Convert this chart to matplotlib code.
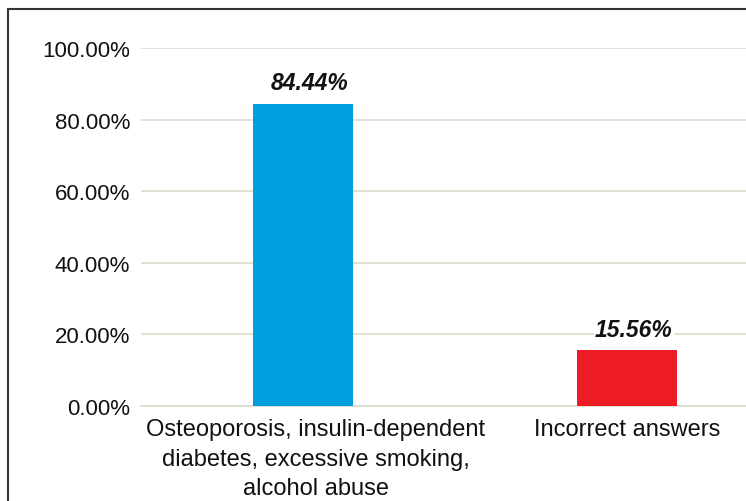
import matplotlib
matplotlib.use('Agg')
import matplotlib.pyplot as plt
import matplotlib.transforms as mtransforms
from matplotlib.patches import Rectangle
from matplotlib.ticker import FuncFormatter

# Datos
categorias = ['Osteoporosis, insulin-dependent\ndiabetes, excessive smoking,\nalcohol abuse',
              'Incorrect answers']
valores = [84.44, 15.56]
colores = ['#009FDF', '#ED1C24']

plt.rcParams['font.family'] = ['Liberation Sans', 'DejaVu Sans']

fig = plt.figure(figsize=(7.46, 5.02), dpi=100)
ax = fig.add_axes([141 / 746, 1 - 407 / 502, 648 / 746, (407 - 49) / 502])

x = [0, 1]
ax.bar(x, valores, width=0.31, color=colores, zorder=3)
ax.set_xlim(-0.5, 1.5)
ax.set_ylim(0, 100)
ax.set_yticks([0, 20, 40, 60, 80, 100])
ax.yaxis.set_major_formatter(FuncFormatter(lambda v, p: f'{v:.2f}%'))
ax.set_xticks(x)
ax.set_xticklabels(categorias, linespacing=1.42)
ax.tick_params(axis='both', length=0, labelcolor='#111111')
ax.tick_params(axis='y', pad=8, labelsize=16)
ax.tick_params(axis='x', pad=9, labelsize=17)
ax.grid(axis='y', color='#DADACB', linewidth=1.2, zorder=0)
for s in ['top', 'right', 'left']:
    ax.spines[s].set_visible(False)
ax.spines['bottom'].set_color('#DADACB')
ax.spines['bottom'].set_linewidth(1.2)

# el texto largo queda algo desplazado a la derecha en el original
lbl = ax.get_xticklabels()[0]
lbl.set_transform(lbl.get_transform() +
                  mtransforms.ScaledTranslation(13 / 100, 0, fig.dpi_scale_trans))

# Etiquetas sobre las barras
for xi, v in zip(x, valores):
    ax.annotate(f'{v:.2f}%', (xi, v), xytext=(5, 7), textcoords='offset points',
                ha='center', va='bottom', fontsize=16.5, fontweight='bold',
                fontstyle='italic', color='#111111', zorder=4,
                bbox=dict(facecolor='white', edgecolor='none', pad=1))

# Marco exterior
fig.add_artist(Rectangle((8 / 746, -0.1), 1.2, 1 - 10 / 502 + 0.1,
                         transform=fig.transFigure, fill=False,
                         edgecolor='#333333', linewidth=1.5, clip_on=False))

fig.savefig('out.png', dpi=100)
